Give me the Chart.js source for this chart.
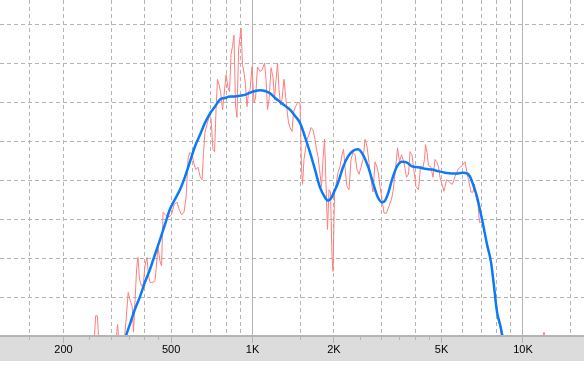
<!DOCTYPE html>
<html>
<head>
<meta charset="utf-8">
<script src="https://cdn.jsdelivr.net/npm/chart.js@4.4.1/dist/chart.umd.min.js"></script>
<style>
  html, body { margin: 0; padding: 0; background: #fff; }
  canvas { display: block; }
</style>
</head>
<body>
<canvas id="chart" width="584" height="369"></canvas>
<script>
// raw response (thin red), frequency in Hz / level in dB
const redFreq = [
  247, 259, 263, 267, 271, 292, 313, 317, 321, 335,
  341, 347, 352, 359, 363, 368, 373, 377, 382, 389,
  395, 400, 407, 413, 418, 429, 436, 440, 447, 455,
  461, 467, 479, 491, 502, 513, 526, 535, 546, 558,
  568, 578, 587, 598, 608, 617, 629, 640, 651, 659,
  667, 679, 691, 702, 714, 724, 733, 742, 752, 762,
  775, 785, 798, 812, 822, 833, 843, 854, 865, 876,
  888, 899, 907, 918, 930, 942, 954, 967, 979, 996,
  1013, 1026, 1043, 1066, 1084, 1108, 1122, 1136, 1151, 1171,
  1191, 1206, 1222, 1237, 1253, 1269, 1285, 1307, 1324, 1341,
  1359, 1376, 1400, 1418, 1442, 1467, 1498, 1518, 1531, 1550,
  1570, 1590, 1618, 1645, 1674, 1702, 1724, 1746, 1769, 1799,
  1822, 1846, 1869, 1893, 1918, 1942, 1967, 1984, 2010, 2036,
  2071, 2106, 2142, 2170, 2207, 2235, 2274, 2313, 2353, 2393,
  2434, 2476, 2518, 2562, 2606, 2650, 2696, 2742, 2789, 2837,
  2886, 2923, 2960, 3011, 3063, 3129, 3196, 3265, 3307, 3364,
  3436, 3495, 3555, 3631, 3710, 3773, 3822, 3887, 3937, 4022,
  4109, 4179, 4269, 4324, 4361, 4417, 4474, 4570, 4648, 4728,
  4809, 4871, 4934, 5018, 5105, 5214, 5304, 5372, 5487, 5605,
  5750, 5849, 5950, 6104, 6208, 6288, 6423, 6534, 6618, 6703,
  6818, 6905, 7054, 7145, 7236, 7361, 7455, 7551, 7616, 7713,
  7813, 7947, 8015, 8118, 8222, 8292, 8435, 8952, 10614, 11755,
  11957, 12163, 12800
];
const redDb = [
  38.3, 38.6, 42.6, 42.6, 38.3, 38.1, 39.4, 41.5, 39.0, 39.0,
  42.2, 45.6, 44.7, 43.8, 40.5, 44.7, 48.8, 50.1, 47.3, 46.4,
  46.7, 49.0, 50.1, 47.7, 46.9, 46.9, 47.1, 48.6, 51.5, 49.6,
  49.0, 55.9, 55.5, 55.3, 55.6, 56.9, 57.2, 56.3, 55.6, 55.9,
  57.9, 62.9, 63.6, 63.3, 62.1, 61.4, 61.7, 60.5, 60.1, 63.6,
  66.2, 67.2, 68.2, 68.1, 64.0, 63.7, 69.1, 73.0, 72.3, 71.4,
  69.1, 71.0, 73.6, 71.9, 71.4, 76.2, 77.2, 78.7, 69.7, 68.1,
  76.8, 78.5, 79.6, 74.9, 73.8, 72.3, 69.5, 71.4, 71.7, 74.6,
  70.0, 70.6, 74.6, 74.0, 74.2, 75.1, 73.0, 69.1, 70.4, 74.5,
  73.2, 70.4, 73.0, 75.1, 71.7, 69.7, 70.4, 73.0, 71.0, 69.1,
  67.4, 66.8, 66.3, 68.8, 69.5, 70.0, 70.0, 61.4, 59.5, 62.7,
  64.0, 65.3, 65.9, 66.8, 66.5, 65.3, 64.0, 63.1, 61.4, 59.2,
  62.7, 65.3, 59.5, 53.7, 58.8, 58.5, 50.3, 48.3, 58.5, 59.5,
  61.0, 61.8, 63.3, 64.0, 61.0, 59.2, 58.8, 62.7, 63.6, 63.3,
  61.4, 60.8, 61.7, 62.7, 65.3, 64.4, 62.3, 60.1, 58.5, 62.4,
  61.7, 60.8, 59.2, 57.6, 55.8, 55.8, 56.7, 57.6, 58.6, 60.8,
  64.2, 62.4, 63.3, 62.3, 60.4, 60.8, 63.7, 63.3, 61.7, 59.2,
  58.8, 61.8, 61.7, 62.7, 64.6, 63.6, 61.9, 61.7, 60.4, 62.7,
  62.3, 61.8, 60.4, 59.5, 58.6, 60.1, 59.9, 59.7, 59.5, 60.5,
  61.4, 61.7, 61.9, 62.4, 61.0, 60.1, 58.5, 58.5, 59.5, 57.9,
  56.9, 54.6, 54.7, 54.1, 53.1, 51.5, 50.8, 50.3, 49.5, 47.7,
  46.0, 44.5, 43.5, 41.8, 41.3, 40.3, 38.3, 37.0, 37.7, 39.0,
  40.5, 39.0, 37.0
];

// smoothed response (blue)
const blueFreq = [
  318, 341, 352, 368, 384, 400, 418, 436, 455, 475,
  495, 517, 539, 563, 587, 613, 640, 667, 696, 727,
  758, 791, 826, 862, 899, 938, 979, 1022, 1066, 1112,
  1161, 1211, 1264, 1319, 1376, 1436, 1498, 1563, 1631, 1702,
  1776, 1854, 1902, 1951, 2001, 2071, 2161, 2255, 2353, 2455,
  2562, 2673, 2789, 2910, 3011, 3089, 3169, 3279, 3421, 3570,
  3725, 3887, 4091, 4342, 4609, 4850, 5148, 5464, 5750, 6001,
  6208, 6369, 6534, 6760, 7054, 7361, 7616, 7813, 8015, 8222,
  8363, 8653
];
const blueDb = [
  37.0, 40.1, 41.5, 43.5, 45.1, 46.9, 48.6, 50.5, 52.4, 54.4,
  56.3, 57.6, 58.8, 60.5, 62.4, 64.4, 65.9, 67.4, 68.6, 69.5,
  70.4, 70.6, 70.8, 70.8, 70.9, 71.0, 71.3, 71.5, 71.6, 71.5,
  71.2, 70.6, 70.1, 69.6, 69.1, 68.3, 67.4, 65.6, 63.6, 61.4,
  59.1, 57.8, 57.4, 57.7, 58.5, 59.7, 61.7, 63.1, 63.8, 64.0,
  63.3, 61.8, 59.7, 57.8, 57.2, 57.4, 58.3, 60.1, 61.8, 62.4,
  62.3, 61.8, 61.7, 61.5, 61.4, 61.2, 61.0, 60.9, 60.9, 61.0,
  60.9, 60.5, 59.5, 57.9, 55.0, 51.8, 49.5, 46.4, 43.1, 41.5,
  40.3, 37.0
];

// frequency axis
const tickValues = [150, 200, 250, 300, 350, 400, 450, 500, 600, 700, 800, 900, 1000,
  1500, 2000, 2500, 3000, 3500, 4000, 4500, 5000, 6000, 7000, 8000, 9000, 10000, 15000];
const labelValues = [200, 500, 1000, 2000, 5000, 10000];
const labelTexts = ['200', '500', '1K', '2K', '5K', '10K'];
const solidGridValues = [1000, 10000];
const noGridValues = [250, 350, 450, 2500, 3500, 4500];
const noTickValues = [600, 700, 800, 900, 6000, 7000, 8000, 9000, 15000];
// level axis
const dbGridValues = [45, 50, 55, 60, 65, 70, 75, 80];

const GRID = '#b4b4b4';
const NONE = 'rgba(0,0,0,0)';

function tickVal(c) {
  return c.tick ? c.tick.value : null;
}

const axisBand = {
  id: 'axisBand',
  beforeDraw(chart) {
    const ctx = chart.ctx;
    const x = chart.scales.x;
    ctx.save();
    ctx.fillStyle = '#dcdcdc';
    ctx.fillRect(0, x.top, chart.width, chart.height - 8 - x.top);
    ctx.restore();
  }
};

const clipArea = { left: 0, top: 0, right: 0, bottom: -1 };

new Chart(document.getElementById('chart'), {
  type: 'line',
  data: {
    datasets: [
      {
        label: 'smoothed',
        data: blueFreq.map((f, i) => ({ x: f, y: blueDb[i] })),
        borderColor: '#0a7af8',
        borderWidth: 2.5,
        pointRadius: 0,
        cubicInterpolationMode: 'monotone',
        clip: clipArea
      },
      {
        label: 'raw',
        data: redFreq.map((f, i) => ({ x: f, y: redDb[i] })),
        borderColor: '#ff7d7d',
        borderWidth: 1,
        pointRadius: 0,
        tension: 0,
        clip: clipArea
      }
    ]
  },
  options: {
    responsive: false,
    animation: false,
    layout: { padding: { left: 0, right: 0, top: 0, bottom: 13 } },
    plugins: { legend: { display: false }, tooltip: { enabled: false } },
    scales: {
      x: {
        type: 'logarithmic',
        min: 116.5,
        max: 16810,
        afterBuildTicks: function (scale) {
          scale.ticks = tickValues.map(v => ({ value: v }));
        },
        ticks: {
          autoSkip: false,
          maxRotation: 0,
          minRotation: 0,
          padding: 1,
          color: '#000',
          font: { family: '"Liberation Sans", Arial, sans-serif', size: 11, lineHeight: 1 },
          callback: function (v) {
            const i = labelValues.indexOf(v);
            return i >= 0 ? labelTexts[i] : '';
          }
        },
        grid: {
          color: c => noGridValues.includes(tickVal(c)) ? NONE : GRID,
          lineWidth: 1,
          drawTicks: true,
          tickLength: 7,
          tickWidth: 1,
          tickColor: c => noTickValues.includes(tickVal(c)) ? NONE : GRID,
          tickBorderDash: c => labelValues.includes(tickVal(c)) ? [] : [3, 20]
        },
        border: {
          display: true,
          color: GRID,
          width: 2,
          dash: c => solidGridValues.includes(tickVal(c)) ? [] : [4, 3]
        }
      },
      y: {
        type: 'linear',
        min: 40,
        max: 83.2,
        afterBuildTicks: function (scale) {
          scale.ticks = dbGridValues.map(v => ({ value: v }));
        },
        ticks: { display: false },
        grid: { color: GRID, lineWidth: 1, drawTicks: false },
        border: { display: false, dash: [4, 3] }
      }
    }
  },
  plugins: [axisBand]
});
</script>
</body>
</html>
